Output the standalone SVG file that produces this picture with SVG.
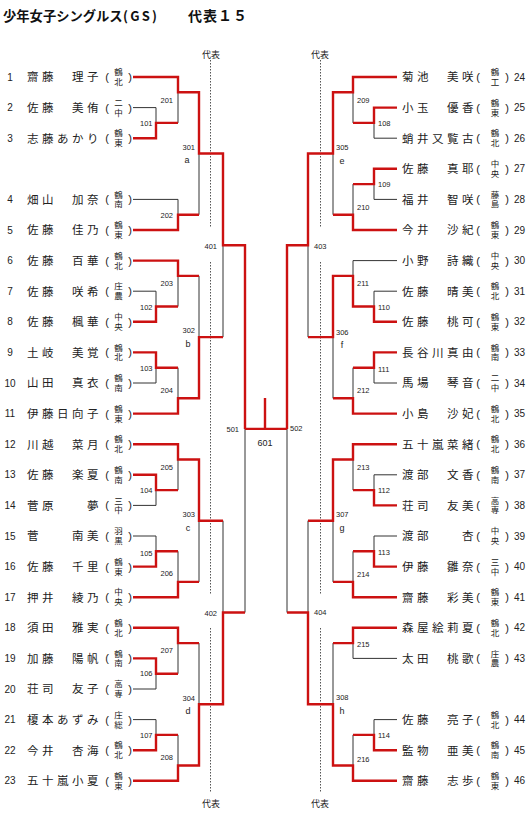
<svg xmlns="http://www.w3.org/2000/svg" width="530" height="819" viewBox="0 0 530 819">
<style>
.t{font-family:"Noto Sans CJK JP","Noto Sans CJK SC",sans-serif;font-weight:bold;fill:#111}
.nm{font-family:"Noto Sans CJK JP","Noto Sans CJK SC",sans-serif;font-size:11.5px;letter-spacing:3.5px;fill:#222}
.sc{font-family:"Noto Sans CJK JP","Noto Sans CJK SC",sans-serif;font-size:8.5px;text-anchor:middle;writing-mode:vertical-rl;letter-spacing:1.3px;fill:#222}
.pr{font-family:"Liberation Sans",sans-serif;font-size:11px;text-anchor:middle;fill:#222}
.nl{font-family:"Liberation Sans",sans-serif;font-size:10px;text-anchor:middle;fill:#222}
.nr{font-family:"Liberation Sans",sans-serif;font-size:10px;fill:#222}
.le{font-family:"Liberation Sans",sans-serif;font-size:7.5px;text-anchor:end;fill:#222}
.ls{font-family:"Liberation Sans",sans-serif;font-size:7.5px;fill:#222}
.lt{font-family:"Liberation Sans",sans-serif;font-size:9px;text-anchor:middle;fill:#222}
.dh{font-family:"Noto Sans CJK JP","Noto Sans CJK SC",sans-serif;font-size:9px;text-anchor:middle;fill:#222}
.rd{fill:none;stroke:#cc1111;stroke-width:2.4}
.bk{fill:none;stroke:#333;stroke-width:1}
.dt{fill:none;stroke:#555;stroke-width:1;stroke-dasharray:1.5 1.5}
</style>
<rect width="530" height="819" fill="#fff"/>
<g id="title">
<text class="t" x="3" y="21" font-size="13.3">少年女子シングルス</text>
<text class="t" x="123" y="21" font-size="13" textLength="34" lengthAdjust="spacing">(GS)</text>
<text class="t" x="188" y="21" font-size="14" letter-spacing="1">代表１５</text>
</g>
<g id="daihyo">
<path class="dt" d="M210.5,60V228M210.5,262V595M210.5,628V793M320.5,60V228M320.5,262V595M320.5,628V793"/>
<text class="dh" x="211" y="58">代表</text>
<text class="dh" x="211" y="807">代表</text>
<text class="dh" x="320" y="58">代表</text>
<text class="dh" x="320" y="807">代表</text>
</g>
<g id="connectors">
<path class="bk" d="M133,107.6H156V122.9M178,92.3V122.9M133,199.4H178V214.7M199,153.5V214.7M133,291.2H156V306.5M178,275.9V306.5M199,275.9V337.1M133,383H156V367.7M178,367.7V398.3M223,245.3V337.1M133,505.4H156V490.1M178,459.5V490.1M199,520.7V581.9M133,536H156V551.3M178,551.3V581.9M223,520.7V612.5M245,428.9V612.5M133,689H156V673.7M178,643.1V673.7M199,643.1V704.3M133,719.6H156V734.9M178,734.9V765.5"/>
<path class="bk" d="M397,138.2H374V122.9M353,92.3V122.9M397,199.4H374V184.1M353,184.1V214.7M333,153.5V214.7M308,245.3V337.1M397,260.6H353V275.9M397,291.2H374V306.5M333,337.1V398.3M397,383H374V367.7M353,367.7V398.3M287,428.9V612.5M397,474.8H374V490.1M353,459.5V490.1M333,520.7V581.9M397,536H374V551.3M353,551.3V581.9M308,520.7V612.5M397,658.4H353V643.1M333,643.1V704.3M397,719.6H374V734.9M353,734.9V765.5"/>
<path class="rd" d="M133,77H178V92.3H199V153.5H223V245.3H245V428.9M133,138.2H156V122.9H178M133,230H178V214.7H199M133,260.6H178V275.9H199M133,321.8H156V306.5H178M133,352.4H156V367.7H178M133,413.6H178V398.3H199V337.1H223M133,444.2H178V459.5H199V520.7H223M133,474.8H156V490.1H178M133,566.6H156V551.3H178M133,597.2H178V581.9H199M133,627.8H178V643.1H199M133,658.4H156V673.7H178M133,750.2H156V734.9H178M133,780.8H178V765.5H199V704.3H223V612.5H245"/>
<path class="rd" d="M397,77H353V92.3H333V153.5H308V245.3H287V428.9M397,107.6H374V122.9H353M397,168.8H374V184.1H353M397,230H353V214.7H333M397,321.8H374V306.5H353V275.9H333V337.1H308M397,352.4H374V367.7H353M397,413.6H353V398.3H333M397,444.2H353V459.5H333V520.7H308M397,505.4H374V490.1H353M397,566.6H374V551.3H353M397,597.2H353V581.9H333M397,627.8H353V643.1H333M397,750.2H374V734.9H353M397,780.8H353V765.5H333V704.3H308V612.5H287"/>
<path class="rd" d="M245,428.9H287M265,428.9V398"/>
</g>
<g id="match-labels">
<text class="le" x="152.5" y="125.6">101</text>
<text class="le" x="173" y="102.7">201</text>
<text class="le" x="195" y="149.7">301</text>
<text class="lt" x="187" y="163">a</text>
<text class="le" x="173" y="217.7">202</text>
<text class="le" x="217" y="248.7">401</text>
<text class="le" x="173" y="285.7">203</text>
<text class="le" x="152.5" y="309.7">102</text>
<text class="le" x="195" y="332.7">302</text>
<text class="lt" x="188" y="347">b</text>
<text class="le" x="152.5" y="370.7">103</text>
<text class="le" x="173" y="392.7">204</text>
<text class="le" x="239" y="431.7">501</text>
<text class="le" x="173" y="469.7">205</text>
<text class="le" x="152.5" y="492.7">104</text>
<text class="le" x="195" y="516.7">303</text>
<text class="lt" x="188" y="531">c</text>
<text class="le" x="152.5" y="555.7">105</text>
<text class="le" x="173" y="575.7">206</text>
<text class="le" x="217" y="615.7">402</text>
<text class="le" x="173" y="652.7">207</text>
<text class="le" x="152.5" y="675.7">106</text>
<text class="le" x="195" y="700.7">304</text>
<text class="lt" x="188" y="714">d</text>
<text class="le" x="152.5" y="737.7">107</text>
<text class="le" x="173" y="759.7">208</text>
<text class="ls" x="357" y="102.7">209</text>
<text class="ls" x="378" y="125.7">108</text>
<text class="ls" x="336" y="149.7">305</text>
<text class="lt" x="342" y="163.5">e</text>
<text class="ls" x="378" y="186.7">109</text>
<text class="ls" x="357" y="209.7">210</text>
<text class="ls" x="314" y="248.7">403</text>
<text class="ls" x="357" y="285.7">211</text>
<text class="ls" x="378" y="309.7">110</text>
<text class="ls" x="336" y="334.7">306</text>
<text class="lt" x="342" y="348">f</text>
<text class="ls" x="378" y="371.7">111</text>
<text class="ls" x="357" y="392.7">212</text>
<text class="ls" x="290" y="431">502</text>
<text class="lt" x="265" y="445.7" font-size="7.5">601</text>
<text class="ls" x="357" y="469.7">213</text>
<text class="ls" x="378" y="492.7">112</text>
<text class="ls" x="336" y="516.7">307</text>
<text class="lt" x="342" y="531">g</text>
<text class="ls" x="378" y="554.7">113</text>
<text class="ls" x="357" y="576.7">214</text>
<text class="ls" x="314" y="615">404</text>
<text class="ls" x="357" y="646.7">215</text>
<text class="ls" x="336" y="699.7">308</text>
<text class="lt" x="342" y="714">h</text>
<text class="ls" x="378" y="737.7">114</text>
<text class="ls" x="357" y="761.7">216</text>
</g>
<g id="p1" transform="translate(0,77)"><text class="nl" x="10" y="3.5">1</text><text class="nm" x="27" y="4.3">齋藤　理子</text><text class="pr" x="107" y="4">(</text><text class="sc" x="118.5" y="0.6">鶴北</text><text class="pr" x="130" y="4">)</text></g>
<g id="p2" transform="translate(0,107.6)"><text class="nl" x="10" y="3.5">2</text><text class="nm" x="27" y="4.3">佐藤　美侑</text><text class="pr" x="107" y="4">(</text><text class="sc" x="118.5" y="0.6">二中</text><text class="pr" x="130" y="4">)</text></g>
<g id="p3" transform="translate(0,138.2)"><text class="nl" x="10" y="3.5">3</text><text class="nm" x="27" y="4.3">志藤あかり</text><text class="pr" x="107" y="4">(</text><text class="sc" x="118.5" y="0.6">鶴東</text><text class="pr" x="130" y="4">)</text></g>
<g id="p4" transform="translate(0,199.4)"><text class="nl" x="10" y="3.5">4</text><text class="nm" x="27" y="4.3">畑山　加奈</text><text class="pr" x="107" y="4">(</text><text class="sc" x="118.5" y="0.6">鶴南</text><text class="pr" x="130" y="4">)</text></g>
<g id="p5" transform="translate(0,230)"><text class="nl" x="10" y="3.5">5</text><text class="nm" x="27" y="4.3">佐藤　佳乃</text><text class="pr" x="107" y="4">(</text><text class="sc" x="118.5" y="0.6">鶴東</text><text class="pr" x="130" y="4">)</text></g>
<g id="p6" transform="translate(0,260.6)"><text class="nl" x="10" y="3.5">6</text><text class="nm" x="27" y="4.3">佐藤　百華</text><text class="pr" x="107" y="4">(</text><text class="sc" x="118.5" y="0.6">鶴北</text><text class="pr" x="130" y="4">)</text></g>
<g id="p7" transform="translate(0,291.2)"><text class="nl" x="10" y="3.5">7</text><text class="nm" x="27" y="4.3">佐藤　咲希</text><text class="pr" x="107" y="4">(</text><text class="sc" x="118.5" y="0.6">庄農</text><text class="pr" x="130" y="4">)</text></g>
<g id="p8" transform="translate(0,321.8)"><text class="nl" x="10" y="3.5">8</text><text class="nm" x="27" y="4.3">佐藤　楓華</text><text class="pr" x="107" y="4">(</text><text class="sc" x="118.5" y="0.6">中央</text><text class="pr" x="130" y="4">)</text></g>
<g id="p9" transform="translate(0,352.4)"><text class="nl" x="10" y="3.5">9</text><text class="nm" x="27" y="4.3">土岐　美覚</text><text class="pr" x="107" y="4">(</text><text class="sc" x="118.5" y="0.6">鶴北</text><text class="pr" x="130" y="4">)</text></g>
<g id="p10" transform="translate(0,383)"><text class="nl" x="10" y="3.5">10</text><text class="nm" x="27" y="4.3">山田　真衣</text><text class="pr" x="107" y="4">(</text><text class="sc" x="118.5" y="0.6">鶴南</text><text class="pr" x="130" y="4">)</text></g>
<g id="p11" transform="translate(0,413.6)"><text class="nl" x="10" y="3.5">11</text><text class="nm" x="27" y="4.3">伊藤日向子</text><text class="pr" x="107" y="4">(</text><text class="sc" x="118.5" y="0.6">鶴東</text><text class="pr" x="130" y="4">)</text></g>
<g id="p12" transform="translate(0,444.2)"><text class="nl" x="10" y="3.5">12</text><text class="nm" x="27" y="4.3">川越　菜月</text><text class="pr" x="107" y="4">(</text><text class="sc" x="118.5" y="0.6">鶴北</text><text class="pr" x="130" y="4">)</text></g>
<g id="p13" transform="translate(0,474.8)"><text class="nl" x="10" y="3.5">13</text><text class="nm" x="27" y="4.3">佐藤　楽夏</text><text class="pr" x="107" y="4">(</text><text class="sc" x="118.5" y="0.6">鶴南</text><text class="pr" x="130" y="4">)</text></g>
<g id="p14" transform="translate(0,505.4)"><text class="nl" x="10" y="3.5">14</text><text class="nm" x="27" y="4.3">菅原　　夢</text><text class="pr" x="107" y="4">(</text><text class="sc" x="118.5" y="0.6">三中</text><text class="pr" x="130" y="4">)</text></g>
<g id="p15" transform="translate(0,536)"><text class="nl" x="10" y="3.5">15</text><text class="nm" x="27" y="4.3">菅　　南美</text><text class="pr" x="107" y="4">(</text><text class="sc" x="118.5" y="0.6">羽黒</text><text class="pr" x="130" y="4">)</text></g>
<g id="p16" transform="translate(0,566.6)"><text class="nl" x="10" y="3.5">16</text><text class="nm" x="27" y="4.3">佐藤　千里</text><text class="pr" x="107" y="4">(</text><text class="sc" x="118.5" y="0.6">鶴東</text><text class="pr" x="130" y="4">)</text></g>
<g id="p17" transform="translate(0,597.2)"><text class="nl" x="10" y="3.5">17</text><text class="nm" x="27" y="4.3">押井　綾乃</text><text class="pr" x="107" y="4">(</text><text class="sc" x="118.5" y="0.6">中央</text><text class="pr" x="130" y="4">)</text></g>
<g id="p18" transform="translate(0,627.8)"><text class="nl" x="10" y="3.5">18</text><text class="nm" x="27" y="4.3">須田　雅実</text><text class="pr" x="107" y="4">(</text><text class="sc" x="118.5" y="0.6">鶴北</text><text class="pr" x="130" y="4">)</text></g>
<g id="p19" transform="translate(0,658.4)"><text class="nl" x="10" y="3.5">19</text><text class="nm" x="27" y="4.3">加藤　陽帆</text><text class="pr" x="107" y="4">(</text><text class="sc" x="118.5" y="0.6">鶴南</text><text class="pr" x="130" y="4">)</text></g>
<g id="p20" transform="translate(0,689)"><text class="nl" x="10" y="3.5">20</text><text class="nm" x="27" y="4.3">荘司　友子</text><text class="pr" x="107" y="4">(</text><text class="sc" x="118.5" y="0.6">高専</text><text class="pr" x="130" y="4">)</text></g>
<g id="p21" transform="translate(0,719.6)"><text class="nl" x="10" y="3.5">21</text><text class="nm" x="27" y="4.3">榎本あずみ</text><text class="pr" x="107" y="4">(</text><text class="sc" x="118.5" y="0.6">庄総</text><text class="pr" x="130" y="4">)</text></g>
<g id="p22" transform="translate(0,750.2)"><text class="nl" x="10" y="3.5">22</text><text class="nm" x="27" y="4.3">今井　杏海</text><text class="pr" x="107" y="4">(</text><text class="sc" x="118.5" y="0.6">鶴北</text><text class="pr" x="130" y="4">)</text></g>
<g id="p23" transform="translate(0,780.8)"><text class="nl" x="10" y="3.5">23</text><text class="nm" x="27" y="4.3">五十嵐小夏</text><text class="pr" x="107" y="4">(</text><text class="sc" x="118.5" y="0.6">鶴東</text><text class="pr" x="130" y="4">)</text></g>
<g id="p24" transform="translate(0,77)"><text class="nm" x="402" y="4.3">菊池　美咲</text><text class="pr" x="478" y="4">(</text><text class="sc" x="495" y="0.6">鶴工</text><text class="pr" x="507" y="4">)</text><text class="nr" x="514" y="3.5">24</text></g>
<g id="p25" transform="translate(0,107.6)"><text class="nm" x="402" y="4.3">小玉　優香</text><text class="pr" x="478" y="4">(</text><text class="sc" x="495" y="0.6">鶴東</text><text class="pr" x="507" y="4">)</text><text class="nr" x="514" y="3.5">25</text></g>
<g id="p26" transform="translate(0,138.2)"><text class="nm" x="402" y="4.3">蛸井又覧古</text><text class="pr" x="478" y="4">(</text><text class="sc" x="495" y="0.6">鶴北</text><text class="pr" x="507" y="4">)</text><text class="nr" x="514" y="3.5">26</text></g>
<g id="p27" transform="translate(0,168.8)"><text class="nm" x="402" y="4.3">佐藤　真耶</text><text class="pr" x="478" y="4">(</text><text class="sc" x="495" y="0.6">中央</text><text class="pr" x="507" y="4">)</text><text class="nr" x="514" y="3.5">27</text></g>
<g id="p28" transform="translate(0,199.4)"><text class="nm" x="402" y="4.3">福井　智咲</text><text class="pr" x="478" y="4">(</text><text class="sc" x="495" y="0.6">藤島</text><text class="pr" x="507" y="4">)</text><text class="nr" x="514" y="3.5">28</text></g>
<g id="p29" transform="translate(0,230)"><text class="nm" x="402" y="4.3">今井　沙紀</text><text class="pr" x="478" y="4">(</text><text class="sc" x="495" y="0.6">鶴東</text><text class="pr" x="507" y="4">)</text><text class="nr" x="514" y="3.5">29</text></g>
<g id="p30" transform="translate(0,260.6)"><text class="nm" x="402" y="4.3">小野　詩織</text><text class="pr" x="478" y="4">(</text><text class="sc" x="495" y="0.6">中央</text><text class="pr" x="507" y="4">)</text><text class="nr" x="514" y="3.5">30</text></g>
<g id="p31" transform="translate(0,291.2)"><text class="nm" x="402" y="4.3">佐藤　晴美</text><text class="pr" x="478" y="4">(</text><text class="sc" x="495" y="0.6">鶴北</text><text class="pr" x="507" y="4">)</text><text class="nr" x="514" y="3.5">31</text></g>
<g id="p32" transform="translate(0,321.8)"><text class="nm" x="402" y="4.3">佐藤　桃可</text><text class="pr" x="478" y="4">(</text><text class="sc" x="495" y="0.6">鶴東</text><text class="pr" x="507" y="4">)</text><text class="nr" x="514" y="3.5">32</text></g>
<g id="p33" transform="translate(0,352.4)"><text class="nm" x="402" y="4.3">長谷川真由</text><text class="pr" x="478" y="4">(</text><text class="sc" x="495" y="0.6">鶴南</text><text class="pr" x="507" y="4">)</text><text class="nr" x="514" y="3.5">33</text></g>
<g id="p34" transform="translate(0,383)"><text class="nm" x="402" y="4.3">馬場　琴音</text><text class="pr" x="478" y="4">(</text><text class="sc" x="495" y="0.6">二中</text><text class="pr" x="507" y="4">)</text><text class="nr" x="514" y="3.5">34</text></g>
<g id="p35" transform="translate(0,413.6)"><text class="nm" x="402" y="4.3">小島　沙妃</text><text class="pr" x="478" y="4">(</text><text class="sc" x="495" y="0.6">鶴北</text><text class="pr" x="507" y="4">)</text><text class="nr" x="514" y="3.5">35</text></g>
<g id="p36" transform="translate(0,444.2)"><text class="nm" x="402" y="4.3">五十嵐菜緒</text><text class="pr" x="478" y="4">(</text><text class="sc" x="495" y="0.6">鶴北</text><text class="pr" x="507" y="4">)</text><text class="nr" x="514" y="3.5">36</text></g>
<g id="p37" transform="translate(0,474.8)"><text class="nm" x="402" y="4.3">渡部　文香</text><text class="pr" x="478" y="4">(</text><text class="sc" x="495" y="0.6">鶴南</text><text class="pr" x="507" y="4">)</text><text class="nr" x="514" y="3.5">37</text></g>
<g id="p38" transform="translate(0,505.4)"><text class="nm" x="402" y="4.3">荘司　友美</text><text class="pr" x="478" y="4">(</text><text class="sc" x="495" y="0.6">高専</text><text class="pr" x="507" y="4">)</text><text class="nr" x="514" y="3.5">38</text></g>
<g id="p39" transform="translate(0,536)"><text class="nm" x="402" y="4.3">渡部　　杏</text><text class="pr" x="478" y="4">(</text><text class="sc" x="495" y="0.6">中央</text><text class="pr" x="507" y="4">)</text><text class="nr" x="514" y="3.5">39</text></g>
<g id="p40" transform="translate(0,566.6)"><text class="nm" x="402" y="4.3">伊藤　雛奈</text><text class="pr" x="478" y="4">(</text><text class="sc" x="495" y="0.6">三中</text><text class="pr" x="507" y="4">)</text><text class="nr" x="514" y="3.5">40</text></g>
<g id="p41" transform="translate(0,597.2)"><text class="nm" x="402" y="4.3">齋藤　彩美</text><text class="pr" x="478" y="4">(</text><text class="sc" x="495" y="0.6">鶴東</text><text class="pr" x="507" y="4">)</text><text class="nr" x="514" y="3.5">41</text></g>
<g id="p42" transform="translate(0,627.8)"><text class="nm" x="402" y="4.3">森屋絵莉夏</text><text class="pr" x="478" y="4">(</text><text class="sc" x="495" y="0.6">鶴北</text><text class="pr" x="507" y="4">)</text><text class="nr" x="514" y="3.5">42</text></g>
<g id="p43" transform="translate(0,658.4)"><text class="nm" x="402" y="4.3">太田　桃歌</text><text class="pr" x="478" y="4">(</text><text class="sc" x="495" y="0.6">庄農</text><text class="pr" x="507" y="4">)</text><text class="nr" x="514" y="3.5">43</text></g>
<g id="p44" transform="translate(0,719.6)"><text class="nm" x="402" y="4.3">佐藤　亮子</text><text class="pr" x="478" y="4">(</text><text class="sc" x="495" y="0.6">鶴北</text><text class="pr" x="507" y="4">)</text><text class="nr" x="514" y="3.5">44</text></g>
<g id="p45" transform="translate(0,750.2)"><text class="nm" x="402" y="4.3">監物　亜美</text><text class="pr" x="478" y="4">(</text><text class="sc" x="495" y="0.6">鶴南</text><text class="pr" x="507" y="4">)</text><text class="nr" x="514" y="3.5">45</text></g>
<g id="p46" transform="translate(0,780.8)"><text class="nm" x="402" y="4.3">齋藤　志歩</text><text class="pr" x="478" y="4">(</text><text class="sc" x="495" y="0.6">鶴東</text><text class="pr" x="507" y="4">)</text><text class="nr" x="514" y="3.5">46</text></g>
</svg>
